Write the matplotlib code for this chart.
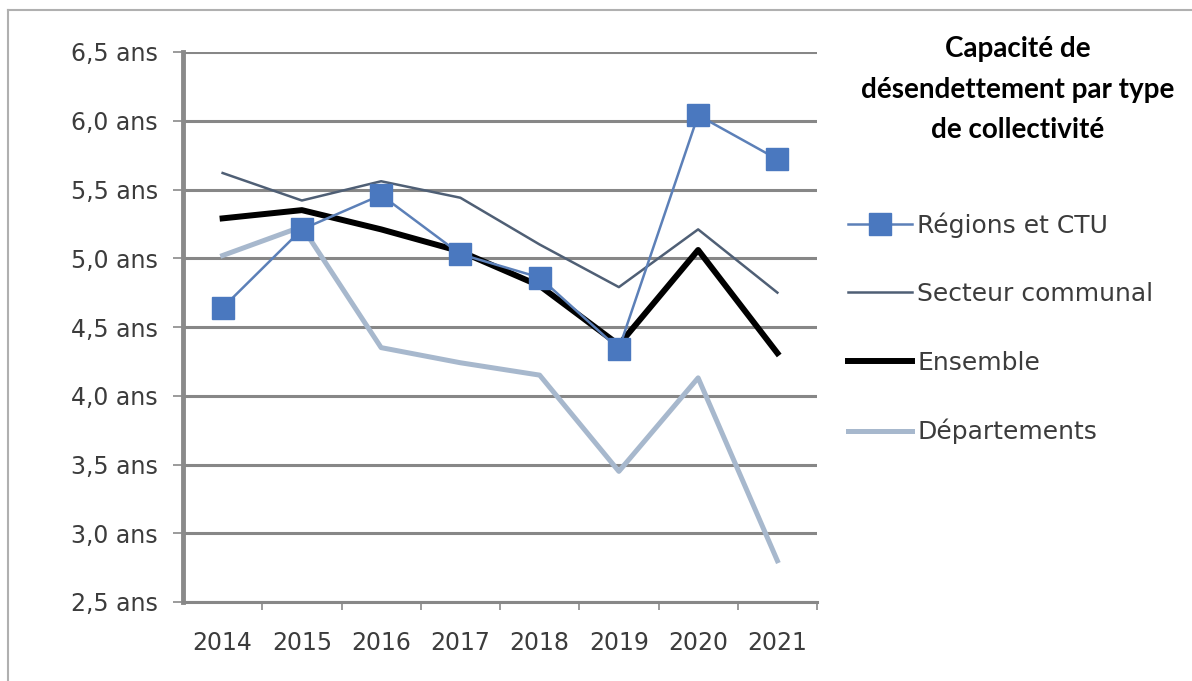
import matplotlib
matplotlib.use("Agg")
import matplotlib.pyplot as plt
from matplotlib.lines import Line2D

years = ["2014", "2015", "2016", "2017", "2018", "2019", "2020", "2021"]
regions = [4.64, 5.21, 5.46, 5.03, 4.86, 4.34, 6.04, 5.72]
secteur = [5.62, 5.42, 5.56, 5.44, 5.10, 4.79, 5.21, 4.75]
ensemble = [5.29, 5.35, 5.21, 5.05, 4.80, 4.37, 5.06, 4.31]
departements = [5.02, 5.23, 4.35, 4.24, 4.15, 3.45, 4.13, 2.80]
yticks = [2.5, 3.0, 3.5, 4.0, 4.5, 5.0, 5.5, 6.0, 6.5]
ytick_labels = ["2,5 ans", "3,0 ans", "3,5 ans", "4,0 ans", "4,5 ans",
                "5,0 ans", "5,5 ans", "6,0 ans", "6,5 ans"]
series_names = ["Régions et CTU", "Secteur communal", "Ensemble", "Départements"]
title = "Capacité de\ndésendettement par type\nde collectivité"

plt.rcParams['font.family'] = ['DejaVu Sans']

W, H = 1192, 681
fig = plt.figure(figsize=(W / 100, H / 100), dpi=100)
ax = fig.add_axes([183 / W, 1 - 602 / H, (817 - 183) / W, (602 - 52) / H])

x = list(range(len(years)))
c_reg_line = "#5c80b8"
c_reg_mk = "#4a78bf"
c_sec = "#4f5f75"
c_ens = "#000000"
c_dep = "#a7b8cd"
c_txt = "#3c3c3c"

ax.plot(x, departements, color=c_dep, lw=3.6, zorder=3, solid_joinstyle='round')
ax.plot(x, ensemble, color=c_ens, lw=4.3, zorder=4, solid_joinstyle='round')
ax.plot(x, secteur, color=c_sec, lw=1.8, zorder=5)
ax.plot(x, regions, color=c_reg_line, lw=1.8, marker='s', ms=16.5,
        mfc=c_reg_mk, mec=c_reg_mk, zorder=6)

ax.set_xlim(-0.5, len(years) - 0.5)
ax.set_ylim(2.5, 6.5)
ax.set_yticks(yticks)
ax.set_yticklabels(ytick_labels)
ax.set_xticks(x)
ax.set_xticklabels(years)
ax.set_xticks([i + 0.5 for i in x], minor=True)

ax.grid(axis='y', color="#878787", lw=2.2, zorder=1)
ax.set_axisbelow(True)
for s in ['top', 'right']:
    ax.spines[s].set_visible(False)
ax.spines['left'].set_color("#8a8a8a")
ax.spines['left'].set_linewidth(3.5)
ax.spines['bottom'].set_color("#878787")
ax.spines['bottom'].set_linewidth(2.2)

ax.tick_params(axis='y', length=7, width=1.2, color="#8a8a8a", labelsize=17,
               labelcolor=c_txt, pad=11)
ax.tick_params(axis='x', which='major', length=0, labelsize=17,
               labelcolor=c_txt, pad=21)
ax.tick_params(axis='x', which='minor', length=6, width=1.2, color="#8a8a8a")

handles = [
    Line2D([], [], color=c_reg_line, lw=1.8, marker='s', ms=16.5, mfc=c_reg_mk, mec=c_reg_mk),
    Line2D([], [], color=c_sec, lw=1.8),
    Line2D([], [], color=c_ens, lw=4.3),
    Line2D([], [], color=c_dep, lw=3.6),
]
leg = fig.legend(handles, series_names, loc='upper left',
                 bbox_to_anchor=(848 / W, 1 - 212 / H), frameon=False,
                 fontsize=18, labelcolor=c_txt, handlelength=2.56,
                 handletextpad=0.2, labelspacing=1.78, borderaxespad=0,
                 borderpad=0)

fig.text(1018 / W, 1 - 36 / H, title, ha='center', va='top', fontsize=20,
         fontweight='bold', color="#000000", linespacing=1.7,
         family=['Lato', 'DejaVu Sans'])

# outer frame (left and top edges)
fig.add_artist(Line2D([8 / W, 8 / W], [0, 1 - 10 / H], transform=fig.transFigure,
                      color="#b0b0b0", lw=1.5))
fig.add_artist(Line2D([8 / W, 1], [1 - 10 / H, 1 - 10 / H], transform=fig.transFigure,
                      color="#b0b0b0", lw=1.5))

fig.savefig("out.png", dpi=100, facecolor="white")
